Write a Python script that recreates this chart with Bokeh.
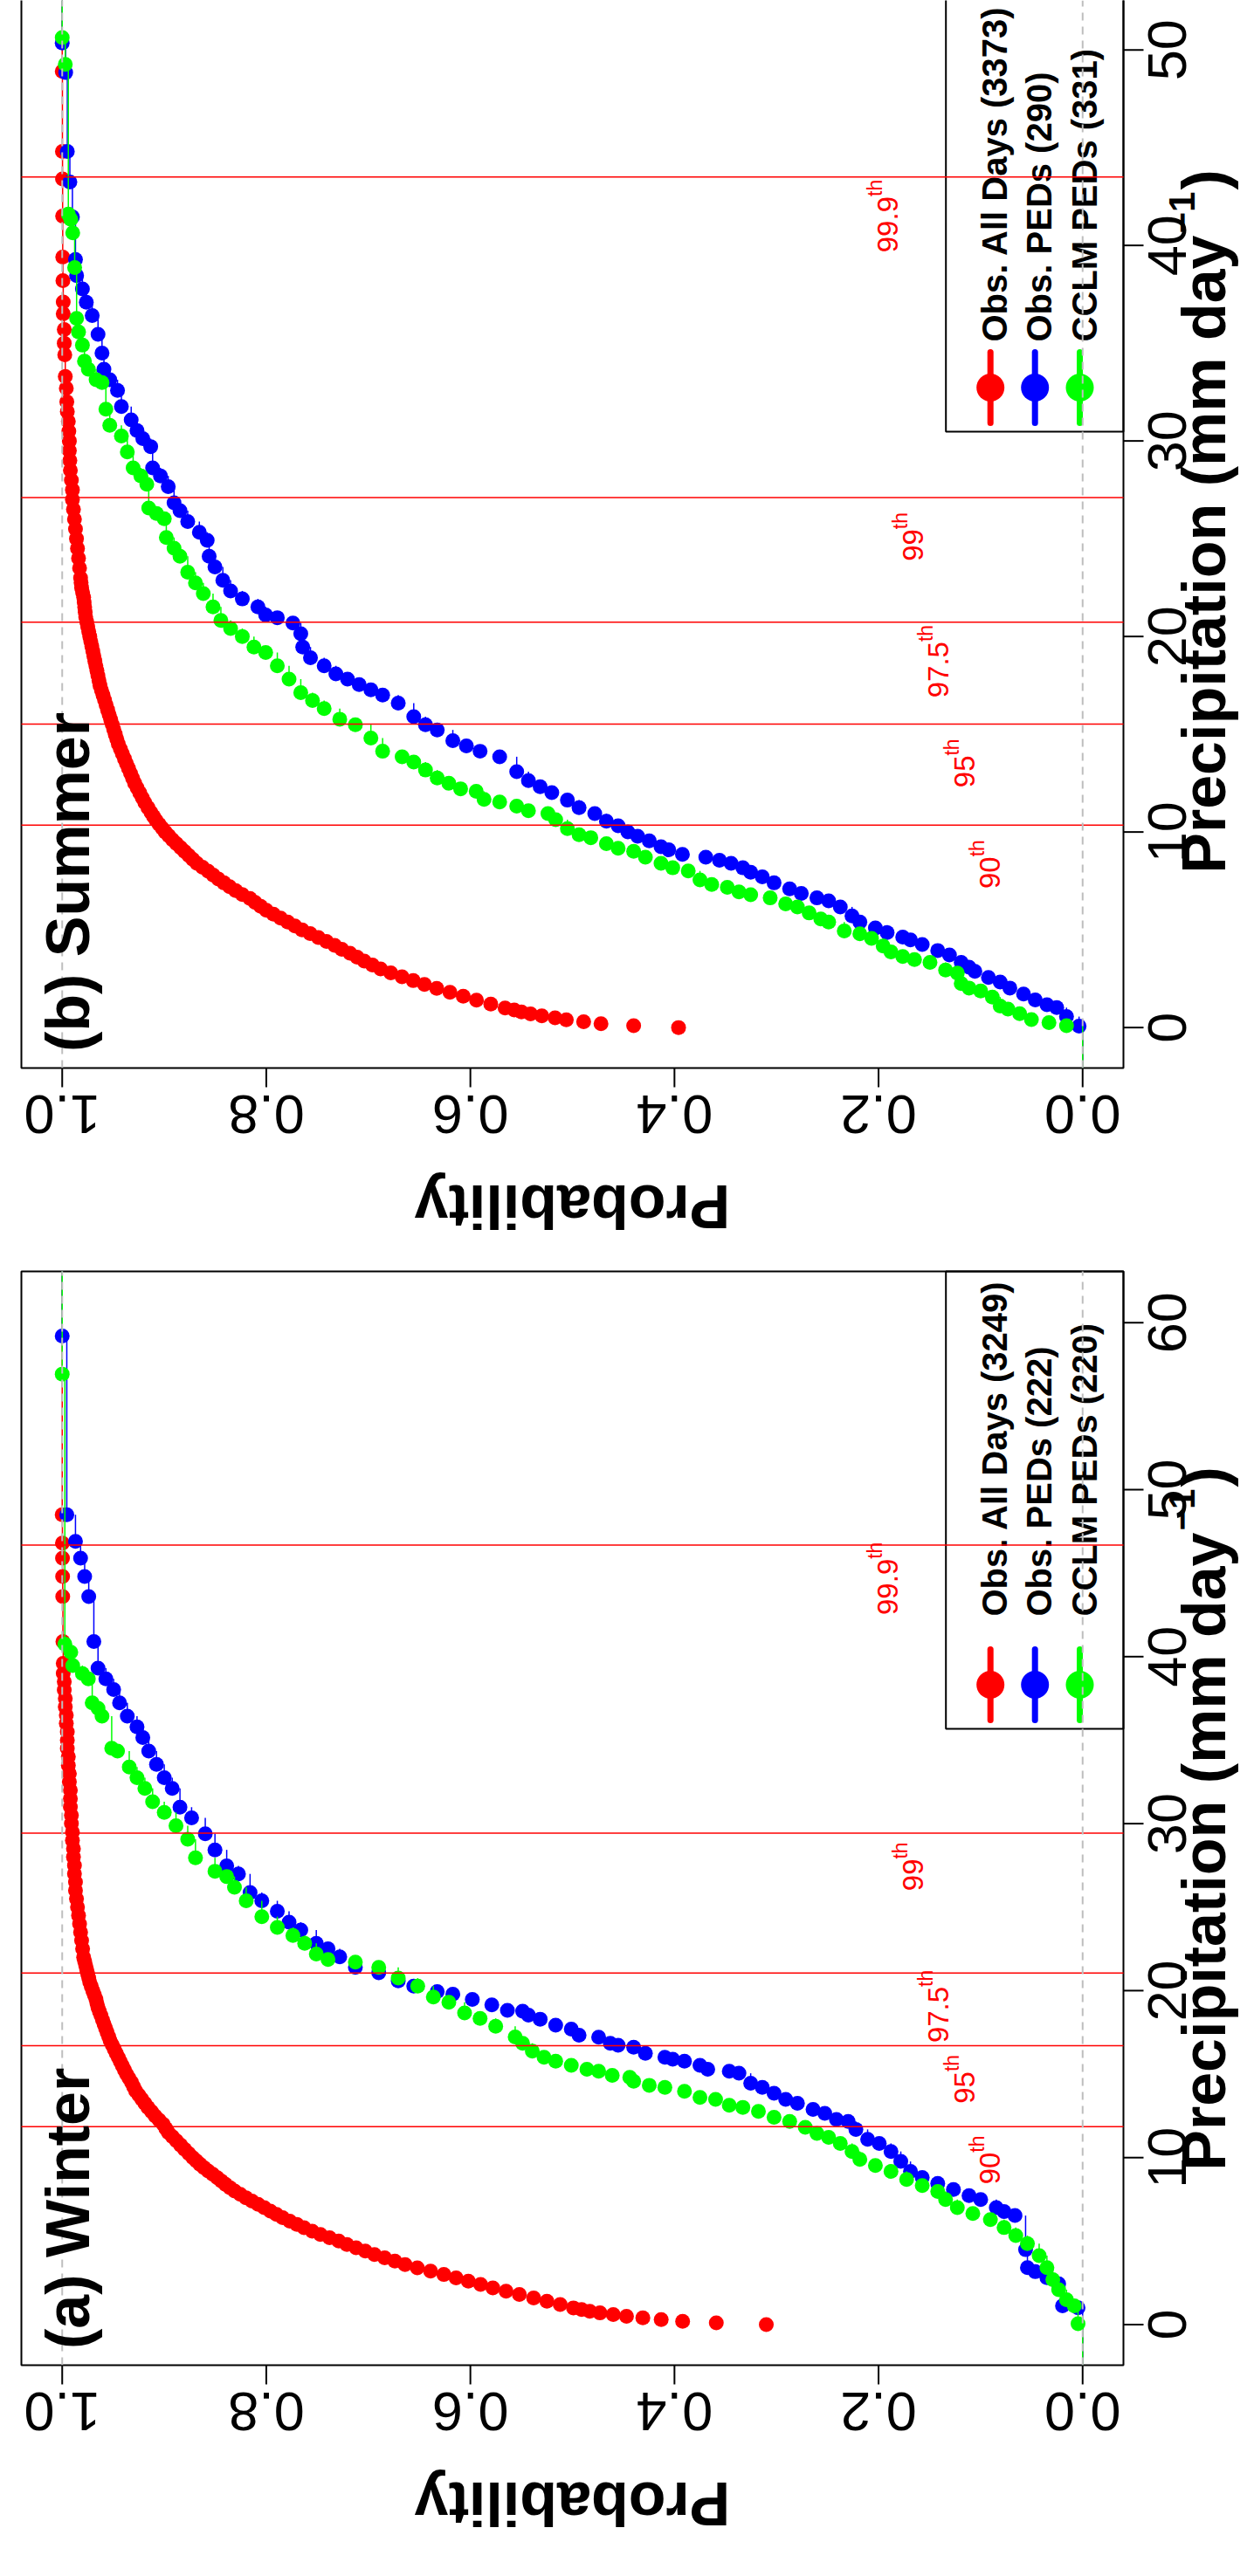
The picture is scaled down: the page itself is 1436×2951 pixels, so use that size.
from math import pi
from bokeh.plotting import figure
from bokeh.models import Range1d
from bokeh.layouts import column
from bokeh.embed import file_html
from bokeh.resources import INLINE
from bokeh.core.properties import value

FONT = "Liberation Sans"
RED, BLUE, GREEN, GREY = "#FF0000", "#0000FF", "#00FF00", "#BEBEBE"

# ---------------- data (precipitation mm/day, cumulative probability) ----------------
prob_ticks = [0.0, 0.2, 0.4, 0.6, 0.8, 1.0]
summer_precip_ticks = [0, 10, 20, 30, 40, 50]
winter_precip_ticks = [0, 10, 20, 30, 40, 50, 60]
pct_names = ["90", "95", "97.5", "99", "99.9"]
summer_pct = [10.35, 15.52, 20.73, 27.1, 43.5]
winter_pct = [11.86, 16.7, 21.06, 29.43, 46.68]
summer_legend = ["Obs. All Days (3373)", "Obs. PEDs (290)", "CCLM PEDs (331)"]
winter_legend = ["Obs. All Days (3249)", "Obs. PEDs (222)", "CCLM PEDs (220)"]

summer_all = [
    (0.0, 0.396), (0.1, 0.440), (0.2, 0.472), (0.3, 0.489), (0.4, 0.506), (0.5, 0.517),
    (0.6, 0.530), (0.7, 0.541), (0.8, 0.550), (0.9, 0.557), (1.0, 0.566), (1.2, 0.580),
    (1.4, 0.594), (1.6, 0.607), (1.8, 0.620), (2.0, 0.633), (2.2, 0.645), (2.4, 0.656),
    (2.6, 0.667), (2.8, 0.678), (3.0, 0.688), (3.2, 0.696), (3.4, 0.704), (3.6, 0.711),
    (3.8, 0.718), (4.0, 0.726), (4.2, 0.733), (4.4, 0.741), (4.6, 0.749), (4.8, 0.757),
    (5.0, 0.765), (5.2, 0.772), (5.4, 0.779), (5.6, 0.786), (5.8, 0.793), (6.0, 0.800),
    (6.2, 0.8055), (6.4, 0.811), (6.6, 0.816), (6.8, 0.8235), (7.0, 0.830), (7.2, 0.836),
    (7.4, 0.8415), (7.6, 0.847), (7.8, 0.852), (8.0, 0.857), (8.2, 0.8625), (8.4, 0.868),
    (8.6, 0.872), (8.8, 0.876), (9.0, 0.880), (9.2, 0.884), (9.4, 0.888), (9.6, 0.892),
    (9.8, 0.8955), (10.0, 0.899), (10.2, 0.902), (10.4, 0.905), (10.6, 0.908), (10.8, 0.9105),
    (11.0, 0.913), (11.25, 0.916), (11.5, 0.919), (11.75, 0.9215), (12.0, 0.924), (12.25, 0.9265),
    (12.5, 0.929), (12.75, 0.931), (13.0, 0.933), (13.25, 0.935), (13.5, 0.937), (13.75, 0.939),
    (14.0, 0.941), (14.25, 0.943), (14.5, 0.945), (14.75, 0.9465), (15.0, 0.948), (15.25, 0.9495),
    (15.5, 0.951), (15.75, 0.9525), (16.0, 0.954), (16.25, 0.9555), (16.5, 0.957), (16.75, 0.9585),
    (17.0, 0.960), (17.25, 0.9615), (17.5, 0.963), (17.75, 0.964), (18.0, 0.965), (18.25, 0.966),
    (18.5, 0.967), (18.75, 0.968), (19.0, 0.969), (19.25, 0.970), (19.5, 0.971), (19.75, 0.972),
    (20.0, 0.973), (20.25, 0.974), (20.5, 0.975), (20.75, 0.976), (21.0, 0.977), (21.25, 0.9775),
    (21.5, 0.978), (21.75, 0.9785), (22.0, 0.979), (22.25, 0.980), (22.5, 0.981), (22.75, 0.9815),
    (23.0, 0.982), (23.5, 0.983), (24.0, 0.984), (24.5, 0.985), (25.0, 0.986), (25.5, 0.987),
    (26.0, 0.988), (26.5, 0.989), (27.0, 0.990), (27.5, 0.990), (28.0, 0.991), (28.5, 0.992),
    (29.0, 0.9925), (29.5, 0.993), (30.0, 0.993), (30.5, 0.9935), (31.0, 0.994), (31.5, 0.995),
    (32.0, 0.9955), (32.7, 0.996), (33.3, 0.997), (34.4, 0.9975), (35.0, 0.998), (35.7, 0.998),
    (36.5, 0.999), (37.1, 0.999), (38.2, 0.9993), (39.4, 0.9995), (41.5, 0.9996), (43.4, 0.9997),
    (44.8, 0.9998), (48.9, 1.0),
]

summer_obs_peds = [
    (0.07, 0.0035), (0.56, 0.0158), (1.02, 0.0254), (1.17, 0.035), (1.41, 0.0464), (1.71, 0.0579),
    (2.02, 0.0713), (2.33, 0.0808), (2.56, 0.0923), (2.87, 0.1056), (3.09, 0.1113), (3.33, 0.119),
    (3.71, 0.1305), (3.94, 0.142), (4.25, 0.1572), (4.48, 0.1687), (4.63, 0.1763), (4.86, 0.1916),
    (5.09, 0.2031), (5.40, 0.2183), (5.71, 0.226), (6.17, 0.2375), (6.48, 0.2489), (6.63, 0.2604),
    (6.86, 0.2757), (7.09, 0.2871), (7.40, 0.3024), (7.71, 0.3139), (7.94, 0.3253), (8.17, 0.333),
    (8.40, 0.3445), (8.55, 0.3559), (8.71, 0.3693), (8.86, 0.3922), (9.09, 0.4056), (9.25, 0.4132),
    (9.55, 0.4247), (9.78, 0.4361), (10.01, 0.4457), (10.32, 0.4552), (10.55, 0.4667), (10.94, 0.4781),
    (11.24, 0.4935), (11.63, 0.5049), (12.01, 0.5202), (12.32, 0.5316), (12.63, 0.5431), (13.09, 0.5546),
    (13.85, 0.5713), (14.13, 0.5905), (14.40, 0.6039), (14.67, 0.6172), (15.22, 0.6325), (15.49, 0.644),
    (15.90, 0.6555), (16.59, 0.6707), (17.00, 0.686), (17.27, 0.6975), (17.54, 0.709), (17.82, 0.7204),
    (18.09, 0.7318), (18.50, 0.7433), (18.91, 0.7567), (19.46, 0.7643), (20.14, 0.7662), (20.69, 0.7739),
    (20.96, 0.7892), (21.10, 0.8006), (21.51, 0.8082), (21.92, 0.8235), (22.33, 0.835), (22.87, 0.8426),
    (23.56, 0.8503), (24.10, 0.856), (24.92, 0.8579), (25.33, 0.8656), (25.88, 0.877), (26.43, 0.8846),
    (26.84, 0.8904), (27.66, 0.8961), (28.21, 0.9037), (28.62, 0.9114), (29.71, 0.9133), (30.12, 0.921),
    (30.53, 0.9267), (31.08, 0.9324), (31.76, 0.942), (32.58, 0.9458), (33.13, 0.9534), (33.67, 0.9591),
    (34.49, 0.961), (35.45, 0.9649), (36.41, 0.9706), (37.09, 0.9764), (37.77, 0.9802), (38.46, 0.9859),
    (39.28, 0.987), (41.46, 0.990), (43.24, 0.9925), (44.80, 0.995), (48.84, 0.9966), (50.35, 1.0),
]

summer_cclm_peds = [
    (0.10, 0.0158), (0.25, 0.033), (0.41, 0.0502), (0.71, 0.0617), (0.94, 0.0732), (1.10, 0.0808),
    (1.56, 0.0885), (1.87, 0.0999), (2.02, 0.1113), (2.25, 0.119), (2.79, 0.1228), (2.94, 0.1343),
    (3.33, 0.1496), (3.48, 0.1648), (3.63, 0.1763), (3.87, 0.1878), (4.17, 0.1955), (4.56, 0.2069),
    (4.79, 0.2183), (4.94, 0.2336), (5.40, 0.2489), (5.55, 0.2566), (5.86, 0.268), (6.17, 0.2795),
    (6.32, 0.291), (6.63, 0.3062), (6.79, 0.3253), (6.94, 0.3368), (7.17, 0.3482), (7.32, 0.3635),
    (7.55, 0.375), (8.01, 0.3865), (8.17, 0.4017), (8.40, 0.4132), (8.71, 0.4285), (9.01, 0.44),
    (9.17, 0.4552), (9.40, 0.4667), (9.71, 0.482), (9.86, 0.4935), (10.17, 0.5049), (10.63, 0.5164),
    (10.94, 0.524), (11.09, 0.5431), (11.32, 0.5546), (11.53, 0.5713), (11.67, 0.5866), (12.08, 0.5943),
    (12.21, 0.6096), (12.49, 0.6211), (12.76, 0.6325), (13.17, 0.644), (13.58, 0.6555), (13.85, 0.6669),
    (14.13, 0.686), (14.81, 0.6975), (15.49, 0.7127), (15.77, 0.728), (16.31, 0.7433), (16.72, 0.7547),
    (17.13, 0.7662), (17.82, 0.7777), (18.50, 0.7892), (19.18, 0.8006), (19.46, 0.8121), (20.00, 0.8235),
    (20.41, 0.835), (20.82, 0.8445), (21.51, 0.8522), (22.19, 0.8617), (22.74, 0.8694), (23.29, 0.877),
    (24.10, 0.8846), (24.51, 0.8904), (25.06, 0.898), (26.02, 0.900), (26.29, 0.9076), (26.57, 0.9152),
    (27.79, 0.9171), (28.21, 0.9229), (28.62, 0.9305), (29.44, 0.9362), (30.25, 0.942), (30.80, 0.9534),
    (31.62, 0.9572), (32.99, 0.961), (33.13, 0.9668), (33.67, 0.9744), (34.08, 0.9782), (34.90, 0.9802),
    (35.58, 0.984), (36.27, 0.9859), (38.87, 0.9878), (40.64, 0.9897), (41.33, 0.9916), (41.60, 0.994),
    (49.26, 0.997), (50.63, 1.0),
]

winter_all = [
    (0.0, 0.310), (0.1, 0.359), (0.2, 0.392), (0.3, 0.413), (0.4, 0.431), (0.5, 0.447),
    (0.6, 0.460), (0.7, 0.473), (0.8, 0.483), (0.9, 0.491), (1.0, 0.499), (1.2, 0.512),
    (1.4, 0.525), (1.6, 0.538), (1.8, 0.552), (2.0, 0.565), (2.2, 0.578), (2.4, 0.590),
    (2.6, 0.602), (2.8, 0.614), (3.0, 0.626), (3.2, 0.639), (3.4, 0.652), (3.6, 0.664),
    (3.8, 0.674), (4.0, 0.684), (4.2, 0.694), (4.4, 0.703), (4.6, 0.712), (4.8, 0.721),
    (5.0, 0.729), (5.2, 0.738), (5.4, 0.747), (5.6, 0.755), (5.8, 0.763), (6.0, 0.770),
    (6.2, 0.777), (6.4, 0.784), (6.6, 0.790), (6.8, 0.796), (7.0, 0.802), (7.2, 0.808),
    (7.4, 0.814), (7.6, 0.820), (7.8, 0.8255), (8.0, 0.831), (8.2, 0.8355), (8.4, 0.840),
    (8.6, 0.844), (8.8, 0.848), (9.0, 0.8525), (9.2, 0.857), (9.4, 0.861), (9.6, 0.865),
    (9.8, 0.8685), (10.0, 0.872), (10.25, 0.876), (10.5, 0.880), (10.75, 0.884), (11.0, 0.888),
    (11.25, 0.892), (11.5, 0.896), (11.75, 0.8985), (12.0, 0.901), (12.25, 0.905), (12.5, 0.909),
    (12.75, 0.9125), (13.0, 0.916), (13.25, 0.919), (13.5, 0.922), (13.75, 0.925), (14.0, 0.928),
    (14.25, 0.930), (14.5, 0.932), (14.75, 0.9345), (15.0, 0.937), (15.25, 0.939), (15.5, 0.941),
    (15.75, 0.943), (16.0, 0.945), (16.25, 0.947), (16.5, 0.949), (16.75, 0.951), (17.0, 0.953),
    (17.25, 0.9545), (17.5, 0.956), (17.75, 0.9575), (18.0, 0.959), (18.25, 0.9605), (18.5, 0.962),
    (18.75, 0.9635), (19.0, 0.965), (19.25, 0.966), (19.5, 0.967), (19.75, 0.9685), (20.0, 0.970),
    (20.25, 0.9715), (20.5, 0.973), (20.75, 0.974), (21.0, 0.975), (21.25, 0.976), (21.5, 0.977),
    (21.75, 0.978), (22.0, 0.979), (22.5, 0.980), (23.0, 0.981), (23.5, 0.982), (24.0, 0.983),
    (24.5, 0.984), (25.0, 0.985), (25.5, 0.986), (26.0, 0.987), (26.5, 0.987), (27.0, 0.988),
    (27.5, 0.988), (28.0, 0.989), (28.5, 0.989), (29.0, 0.990), (29.5, 0.990), (30.0, 0.991),
    (30.5, 0.991), (31.0, 0.992), (31.5, 0.992), (32.0, 0.992), (32.5, 0.993), (33.0, 0.993),
    (33.5, 0.994), (34.0, 0.994), (34.5, 0.995), (35.0, 0.995), (35.5, 0.995), (36.0, 0.996),
    (36.5, 0.996), (37.0, 0.997), (37.5, 0.997), (38.0, 0.998), (38.5, 0.998), (39.0, 0.999),
    (39.6, 0.999), (40.9, 0.9993), (43.6, 0.9995), (44.8, 0.9996), (45.9, 0.9997), (46.8, 0.9998),
    (48.5, 1.0),
]

winter_obs_peds = [
    (1.01, 0.0045), (1.13, 0.0197), (2.45, 0.0235), (2.81, 0.035), (3.17, 0.0464), (3.41, 0.0541),
    (4.49, 0.0559), (6.53, 0.0663), (6.77, 0.077), (7.01, 0.0846), (7.49, 0.0999), (7.73, 0.1113),
    (8.09, 0.1266), (8.45, 0.142), (8.81, 0.1572), (9.17, 0.1687), (9.77, 0.1782), (10.37, 0.1878),
    (10.85, 0.1993), (11.09, 0.2107), (11.69, 0.2222), (12.17, 0.2298), (12.29, 0.2413), (12.65, 0.2527),
    (12.89, 0.2642), (13.25, 0.2795), (13.49, 0.291), (13.85, 0.3024), (14.21, 0.3139), (14.45, 0.3253),
    (15.05, 0.3368), (15.17, 0.3463), (15.29, 0.3674), (15.53, 0.375), (15.77, 0.3902), (15.89, 0.4017),
    (16.01, 0.4094), (16.25, 0.4285), (16.61, 0.44), (16.73, 0.4552), (16.85, 0.4629), (17.21, 0.4743),
    (17.33, 0.4935), (17.69, 0.5011), (17.93, 0.5164), (18.29, 0.5316), (18.53, 0.5431), (18.77, 0.5488),
    (18.82, 0.5637), (19.15, 0.579), (19.47, 0.5981), (19.79, 0.6172), (19.94, 0.6325), (20.27, 0.6555),
    (20.59, 0.6707), (21.07, 0.6898), (21.39, 0.7127), (22.02, 0.728), (22.50, 0.7395), (22.83, 0.751),
    (23.63, 0.7662), (24.10, 0.7777), (24.75, 0.7892), (25.38, 0.8044), (25.87, 0.8159), (26.99, 0.8273),
    (27.47, 0.8388), (28.43, 0.8503), (29.39, 0.8598), (30.35, 0.8732), (30.99, 0.8846), (32.11, 0.8922),
    (32.75, 0.900), (33.55, 0.9076), (34.35, 0.9152), (35.15, 0.921), (35.79, 0.9267), (36.43, 0.9362),
    (37.23, 0.9438), (38.03, 0.9496), (38.67, 0.9572), (39.31, 0.9649), (40.91, 0.969), (43.60, 0.974),
    (44.80, 0.978), (45.90, 0.982), (46.90, 0.987), (48.50, 0.9955), (59.20, 1.0),
]

winter_cclm_peds = [
    (0.05, 0.0045), (1.13, 0.0082), (1.49, 0.0158), (2.09, 0.0235), (2.69, 0.0292), (3.41, 0.035),
    (4.13, 0.0426), (4.85, 0.0541), (5.33, 0.0655), (5.81, 0.077), (6.29, 0.0904), (6.65, 0.1076),
    (7.01, 0.1228), (7.49, 0.1343), (7.97, 0.142), (8.33, 0.1572), (8.69, 0.1725), (9.17, 0.1878),
    (9.53, 0.2031), (9.89, 0.2183), (10.37, 0.226), (10.85, 0.2375), (11.21, 0.2489), (11.45, 0.2604),
    (11.81, 0.2718), (12.17, 0.2871), (12.41, 0.3024), (12.77, 0.3177), (13.01, 0.333), (13.13, 0.3463),
    (13.49, 0.3597), (13.61, 0.375), (13.97, 0.3902), (14.21, 0.4094), (14.33, 0.4247), (14.57, 0.44),
    (14.81, 0.4438), (14.93, 0.461), (15.17, 0.4743), (15.29, 0.4858), (15.53, 0.5011), (15.77, 0.5164),
    (16.01, 0.5278), (16.37, 0.5393), (16.85, 0.5488), (17.22, 0.5561), (17.86, 0.5752), (18.34, 0.5905),
    (18.66, 0.6057), (19.30, 0.6211), (19.62, 0.6363), (20.27, 0.6516), (20.75, 0.6707), (21.39, 0.6898),
    (21.71, 0.7127), (21.87, 0.7395), (22.19, 0.751), (22.83, 0.7624), (23.30, 0.7739), (23.78, 0.7892),
    (24.43, 0.8044), (25.38, 0.8197), (26.19, 0.8312), (26.83, 0.8388), (27.15, 0.8503), (27.95, 0.8694),
    (29.07, 0.877), (29.87, 0.8885), (30.67, 0.900), (31.31, 0.9114), (32.11, 0.919), (32.75, 0.9267),
    (33.39, 0.9343), (34.35, 0.9458), (34.51, 0.9515), (36.43, 0.961), (36.91, 0.9649), (37.23, 0.9706),
    (38.67, 0.9744), (38.99, 0.9802), (39.47, 0.9897), (40.27, 0.9916), (40.75, 0.9974), (56.92, 1.0),
]

# ---------------- layout constants ----------------
CANVAS_W = 1420
FRAME_LEFT = 24                  # plot box left edge, px from canvas left
FRAME_W = 1262
XSCALE = FRAME_W / 1.08          # pixels per unit probability
BASELINE_FIX = 0.25              # em: compensates the renderer's baseline offset


def xp(px):
    """probability value lying px pixels right of the plot box's left edge"""
    return 1.04 - px / XSCALE


def adv_regular(s):
    return sum(0.278 if c == "." else 0.556 for c in s)


def rtext(p, scale, xs, ys, texts, size, angle, align="center", bold=False, color="black"):
    """rotated text whose alphabetic baseline passes through (x, y)"""
    shift = BASELINE_FIX * size
    if abs(angle - pi / 2) < 1e-9:        # text 'up' points to screen left (higher prob)
        xs = [x + shift / XSCALE for x in xs]
    elif abs(angle - pi) < 1e-9:          # text 'up' points to screen down
        ys = [y - shift / scale for y in ys]
    p.text(x=xs, y=ys, text=texts, angle=angle, text_align=align,
           text_baseline="alphabetic", text_font=value(FONT),
           text_font_size=f"{size}px", text_font_style="bold" if bold else "normal",
           text_color=color)


def build(title, series, pct, legend_labels, precip_ticks, y0, frame_h, scale, top_b, bot_b,
          box_top_visible, legend_text_px):
    y1 = y0 + frame_h / scale
    height = top_b + frame_h + bot_b
    p = figure(width=CANVAS_W, height=height,
               x_range=Range1d(xp(-FRAME_LEFT), xp(CANVAS_W - FRAME_LEFT)),
               y_range=Range1d(y0 - bot_b / scale, y1 + top_b / scale),
               x_axis_location=None, y_axis_location=None,
               output_backend="svg", toolbar_location=None, tools="", min_border=0)
    p.grid.visible = False
    p.outline_line_color = None
    p.background_fill_color = "white"
    p.border_fill_color = "white"
    top_edge = y1 if box_top_visible else y1 + 10

    # plot box
    p.quad(left=[1.04], right=[-0.04], bottom=[y0], top=[top_edge],
           fill_color=None, line_color="black", line_width=2)

    # ECDF step curves with points
    for pairs, color in series:
        precip = [a for a, b in pairs]
        prob = [b for a, b in pairs]
        xs = [0.0] + prob
        ys0 = [y0] + precip
        ys1 = [precip[0]] + precip[1:] + [y1]
        p.segment(x0=xs, y0=ys0, x1=xs, y1=ys1, line_color=color, line_width=1.5)
        p.scatter(x=prob, y=precip, size=17, marker="circle",
                  fill_color=color, line_color=None)

    # legend (inside the plot box, top-right corner)
    colors = [RED, BLUE, GREEN]
    lx = [xp(1109.7), xp(1160.7), xp(1212.0)]
    yc = y0 + 779.5 / scale
    p.quad(left=[xp(1058.7)], right=[-0.04], bottom=[y0 + 729 / scale], top=[top_edge],
           fill_color=None, line_color="black", line_width=2)
    p.segment(x0=lx, y0=[yc - 40.5 / scale] * 3, x1=lx, y1=[yc + 40.5 / scale] * 3,
              line_color=colors, line_width=7, line_cap="round")
    p.scatter(x=lx, y=[yc] * 3, size=32, marker="circle", fill_color=colors, line_color=None)
    rtext(p, scale, [v - 15 / XSCALE for v in lx], [y0 + legend_text_px / scale] * 3,
          legend_labels, 40, pi / 2, align="left", bold=True)

    # percentile lines and labels
    p.segment(x0=[1.04] * len(pct), y0=pct, x1=[-0.04] * len(pct), y1=pct,
              line_color=RED, line_width=1.5)
    mx, my, sx, sy = [], [], [], []
    for k, (name, q) in enumerate(zip(pct_names, pct)):
        lm = adv_regular(name) * 33
        ls = 0.834 * 23
        ystart = (q - 2) - (lm + ls) / 2 / scale
        mx.append(xp(1117) + 0.025 * k)
        my.append(ystart)
        sx.append(xp(1100) + 0.025 * k)
        sy.append(ystart + lm / scale)
    rtext(p, scale, mx, my, pct_names, 33, pi / 2, align="left", color=RED)
    rtext(p, scale, sx, sy, ["th"] * len(sx), 23, pi / 2, align="left", color=RED)

    # grey dashed reference lines at probability 0 and 1
    p.segment(x0=[0.0, 1.0], y0=[y0, y0], x1=[0.0, 1.0], y1=[y1, y1],
              line_color=GREY, line_dash="9 7", line_width=2)

    # axis ticks (outside the box)
    p.segment(x0=prob_ticks, y0=[y0] * len(prob_ticks), x1=prob_ticks,
              y1=[y0 - 22 / scale] * len(prob_ticks), line_color="black", line_width=2)
    p.segment(x0=[-0.04] * len(precip_ticks), y0=precip_ticks,
              x1=[-0.04 - 23 / XSCALE] * len(precip_ticks), y1=precip_ticks,
              line_color="black", line_width=2)

    # tick labels
    rtext(p, scale, prob_ticks, [y0 - 37 / scale] * len(prob_ticks),
          [f"{v:.1f}" for v in prob_ticks], 63, pi)
    rtext(p, scale, [xp(1328)] * len(precip_ticks), precip_ticks,
          [str(v) for v in precip_ticks], 63, pi / 2)

    # panel title
    rtext(p, scale, [xp(71)], [y0 + 18.5 / scale], [title], 70, pi / 2, align="left", bold=True)

    # axis titles
    rtext(p, scale, [0.5], [y0 - 141 / scale], ["Probability"], 70, pi, bold=True)
    main_len = 10.447 * 70
    sup_len = 1.14 * 42
    total = main_len + 2 + sup_len + 2 + 0.333 * 70
    yc_lab = y0 + 626 / scale
    ys = yc_lab - total / 2 / scale
    rtext(p, scale, [xp(1372)], [ys], ["Precipitation (mm day"], 70, pi / 2, align="left", bold=True)
    rtext(p, scale, [xp(1339)], [ys + (main_len + 2) / scale], ["\u22121"], 42, pi / 2,
          align="left", bold=True)
    rtext(p, scale, [xp(1372)], [ys + (main_len + 4 + sup_len) / scale], [")"], 70, pi / 2,
          align="left", bold=True)
    return p


p_summer = build("(b) Summer",
                 [(summer_all, RED), (summer_obs_peds, BLUE), (summer_cclm_peds, GREEN)],
                 summer_pct, summer_legend, summer_precip_ticks,
                 y0=-2.07, frame_h=1223, scale=22.4, top_b=0, bot_b=200,
                 box_top_visible=False, legend_text_px=832)
p_winter = build("(a) Winter",
                 [(winter_all, RED), (winter_obs_peds, BLUE), (winter_cclm_peds, GREEN)],
                 winter_pct, winter_legend, winter_precip_ticks,
                 y0=-2.43, frame_h=1253, scale=19.13, top_b=33, bot_b=200,
                 box_top_visible=True, legend_text_px=858)

layout = column(p_summer, p_winter)
open("out.html", "w").write(file_html(layout, INLINE, title="ECDF precipitation"))
